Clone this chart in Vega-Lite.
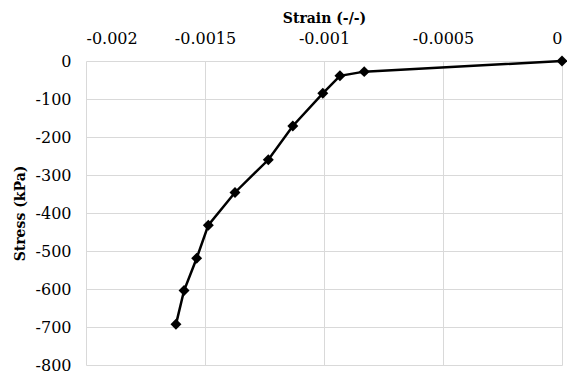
{
  "$schema": "https://vega.github.io/schema/vega-lite/v6.json",
  "width": 476,
  "height": 304,
  "autosize": {"type": "none"},
  "padding": {"left": 86, "top": 61, "right": 5, "bottom": 7},
  "background": "white",
  "config": {
    "view": {"stroke": null},
    "font": "DejaVu Serif",
    "axis": {
      "labelFont": "DejaVu Serif",
      "labelFontSize": 16,
      "labelColor": "#000000",
      "titleFont": "DejaVu Serif",
      "titleFontSize": 14,
      "titleFontWeight": "bold",
      "titleColor": "#000000",
      "gridColor": "#d9d9d9",
      "gridWidth": 1,
      "domain": false,
      "ticks": false
    }
  },
  "data": {
    "values": [
      {"strain": -0.001622, "stress": -693},
      {"strain": -0.001588, "stress": -604},
      {"strain": -0.001535, "stress": -519},
      {"strain": -0.001486, "stress": -432},
      {"strain": -0.001374, "stress": -346},
      {"strain": -0.001234, "stress": -260},
      {"strain": -0.001131, "stress": -171},
      {"strain": -0.001005, "stress": -85},
      {"strain": -0.000933, "stress": -39},
      {"strain": -0.000831, "stress": -28},
      {"strain": 0, "stress": 0}
    ]
  },
  "encoding": {
    "x": {
      "field": "strain",
      "type": "quantitative",
      "title": "Strain (-/-)",
      "scale": {"domain": [-0.002, 0], "nice": false, "zero": false},
      "axis": {
        "orient": "top",
        "values": [-0.002, -0.0015, -0.001, -0.0005, 0],
        "labelExpr": "datum.value == 0 ? '0' : '-' + format(-datum.value, '')",
        "labelPadding": 15,
        "titlePadding": 5
      }
    },
    "y": {
      "field": "stress",
      "type": "quantitative",
      "title": "Stress (kPa)",
      "scale": {"domain": [-800, 0], "nice": false},
      "axis": {
        "values": [0, -100, -200, -300, -400, -500, -600, -700, -800],
        "labelExpr": "datum.value == 0 ? '0' : '-' + format(-datum.value, '')",
        "labelPadding": 15,
        "titlePadding": 8
      }
    }
  },
  "layer": [
    {"mark": {"type": "line", "color": "#000000", "strokeWidth": 2.5}},
    {"mark": {"type": "point", "shape": "diamond", "filled": true, "color": "#000000", "opacity": 1, "size": 120}}
  ]
}
